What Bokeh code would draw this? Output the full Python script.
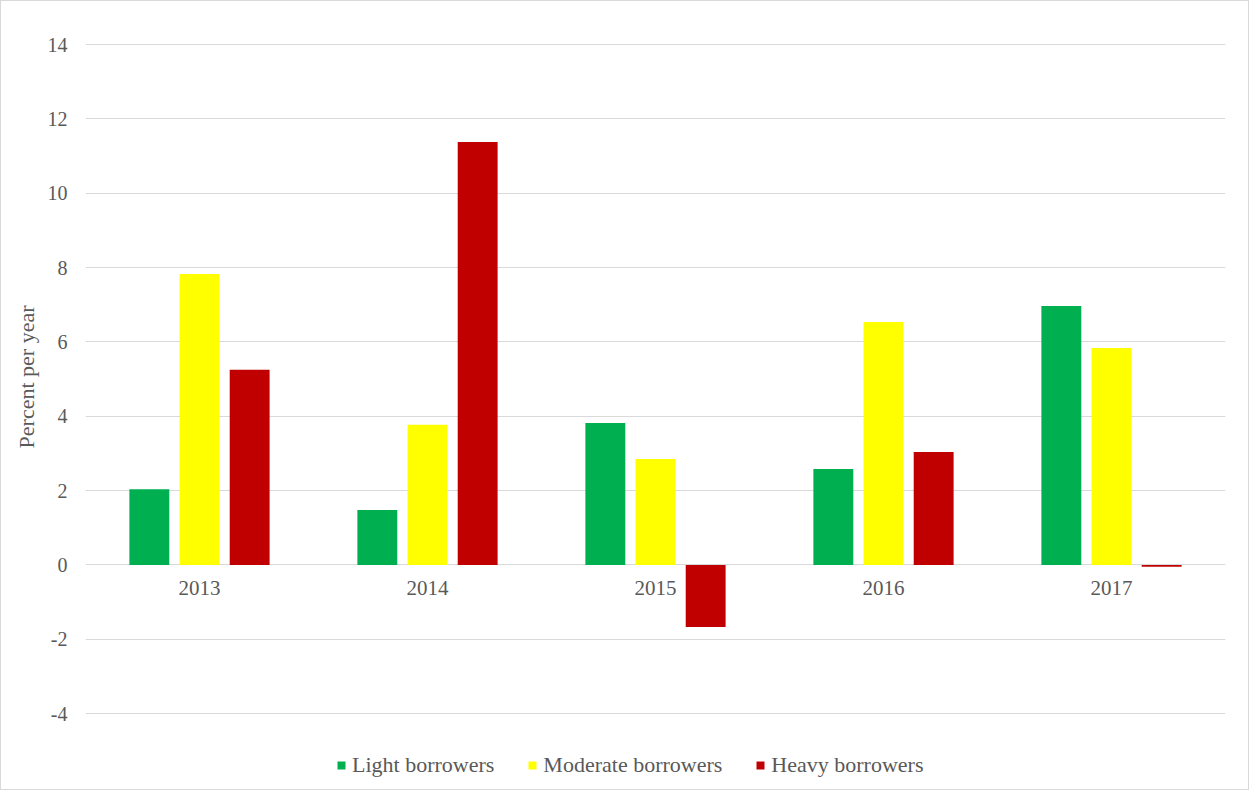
from bokeh.plotting import figure
from bokeh.models import ColumnDataSource, FactorRange, Legend, LegendItem, FixedTicker, Range1d, Title
from bokeh.core.properties import value
from bokeh.transform import dodge
from bokeh.embed import file_html
from bokeh.resources import INLINE

years = ["2013", "2014", "2015", "2016", "2017"]
light = [2.04, 1.48, 3.82, 2.58, 6.97]
moderate = [7.83, 3.77, 2.85, 6.54, 5.84]
heavy = [5.25, 11.38, -1.67, 3.04, -0.05]
series_names = ["Light borrowers", "Moderate borrowers", "Heavy borrowers"]
colors = ["#00B050", "#FFFF00", "#C00000"]
y_ticks = [-4, -2, 0, 2, 4, 6, 8, 10, 12, 14]

src = ColumnDataSource(dict(years=years, light=light, moderate=moderate, heavy=heavy,
                            zero=[0] * len(years)))

FONT = "Liberation Serif"
TXT = "#595959"
GRID = "#D9D9D9"

# frame extends below the -4 line so the legend can sit inside it
p = figure(x_range=FactorRange(*years), y_range=Range1d(-6.04, 14.03),
           frame_width=1140, frame_height=746, output_backend="svg", toolbar_location=None,
           min_border_left=84, min_border_right=23, min_border_top=42, min_border_bottom=0)
p.outline_line_color = None
p.styles = {"border": "1px solid #D9D9D9"}

renderers = []
for field, off, col in zip(["light", "moderate", "heavy"], [-0.22, 0.0, 0.22], colors):
    r = p.vbar(x=dodge("years", off, range=p.x_range), top=field, bottom=0, width=0.175,
               source=src, fill_color=col, line_color=None)
    renderers.append(r)

# category labels sitting just below the zero line
p.text(x="years", y="zero", text="years", source=src, text_align="center", text_baseline="top",
       y_offset=16, text_font=value(FONT), text_font_size="21px", text_color=TXT)

p.xgrid.grid_line_color = None
p.ygrid.grid_line_color = GRID
p.ygrid.grid_line_width = 1
p.xaxis.visible = False
p.yaxis.ticker = FixedTicker(ticks=y_ticks)
p.yaxis.major_label_overrides = {t: str(t) for t in y_ticks}
p.yaxis.axis_line_color = None
p.yaxis.major_tick_line_color = None
p.yaxis.minor_tick_line_color = None
p.yaxis.major_tick_out = 0
p.yaxis.major_tick_in = 0
p.yaxis.major_label_standoff = 18
p.yaxis.major_label_text_font = FONT
p.yaxis.major_label_text_font_size = "20px"
p.yaxis.major_label_text_color = TXT

ylab = Title(text="Percent per year", align="right", offset=262, standoff=11,
             text_font=FONT, text_font_size="22px", text_font_style="normal", text_color=TXT)
p.add_layout(ylab, "left")

legend = Legend(items=[LegendItem(label=n, renderers=[r]) for n, r in zip(series_names, renderers)],
                orientation="horizontal", location=(251, 11),
                label_text_font=FONT, label_text_font_size="22px", label_text_color=TXT,
                glyph_width=10, glyph_height=10, spacing=33, label_standoff=6,
                border_line_color=None, background_fill_alpha=0, margin=0, padding=4)
p.add_layout(legend, "center")

open("out.html", "w").write(file_html(p, INLINE))
